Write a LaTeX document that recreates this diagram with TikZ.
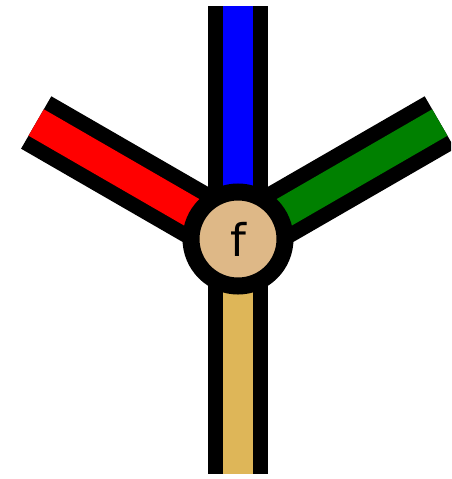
\documentclass[tikz,border=0pt]{standalone}
\usepackage{fontspec}
\setmainfont{DejaVu Sans}
\usepackage{xcolor}
\usepackage{tikz}
\usetikzlibrary{positioning}

\definecolor{tanfill}{RGB}{222,184,135}
\definecolor{legtan}{RGB}{222,182,88}
\definecolor{leggreen}{RGB}{0,128,0}

\begin{document}
\begin{tikzpicture}[
  x=1pt, y=-1pt,
  leg/.style={line width=15pt, double distance=30.5pt, line cap=butt},
  vertex/.style={circle, draw, line width=17pt, fill=tanfill,
                 minimum size=94pt, inner sep=0pt, font=\fontsize{45}{45}\selectfont}
]
  \clip (0,0) rectangle (451,479);
  \coordinate (c)     at (238,239);
  \coordinate (top)   at (238,6);
  \coordinate (bot)   at (238,474);
  \coordinate (left)  at (36.2,122.5);
  \coordinate (right) at (439.8,122.5);

  \draw[leg, double=blue]     (c) -- (top);
  \draw[leg, double=legtan]   (c) -- (bot);
  \draw[leg, double=red]      (c) -- (left);
  \draw[leg, double=leggreen] (c) -- (right);

  \node[vertex] (f) at (c) {f};
\end{tikzpicture}
\end{document}
